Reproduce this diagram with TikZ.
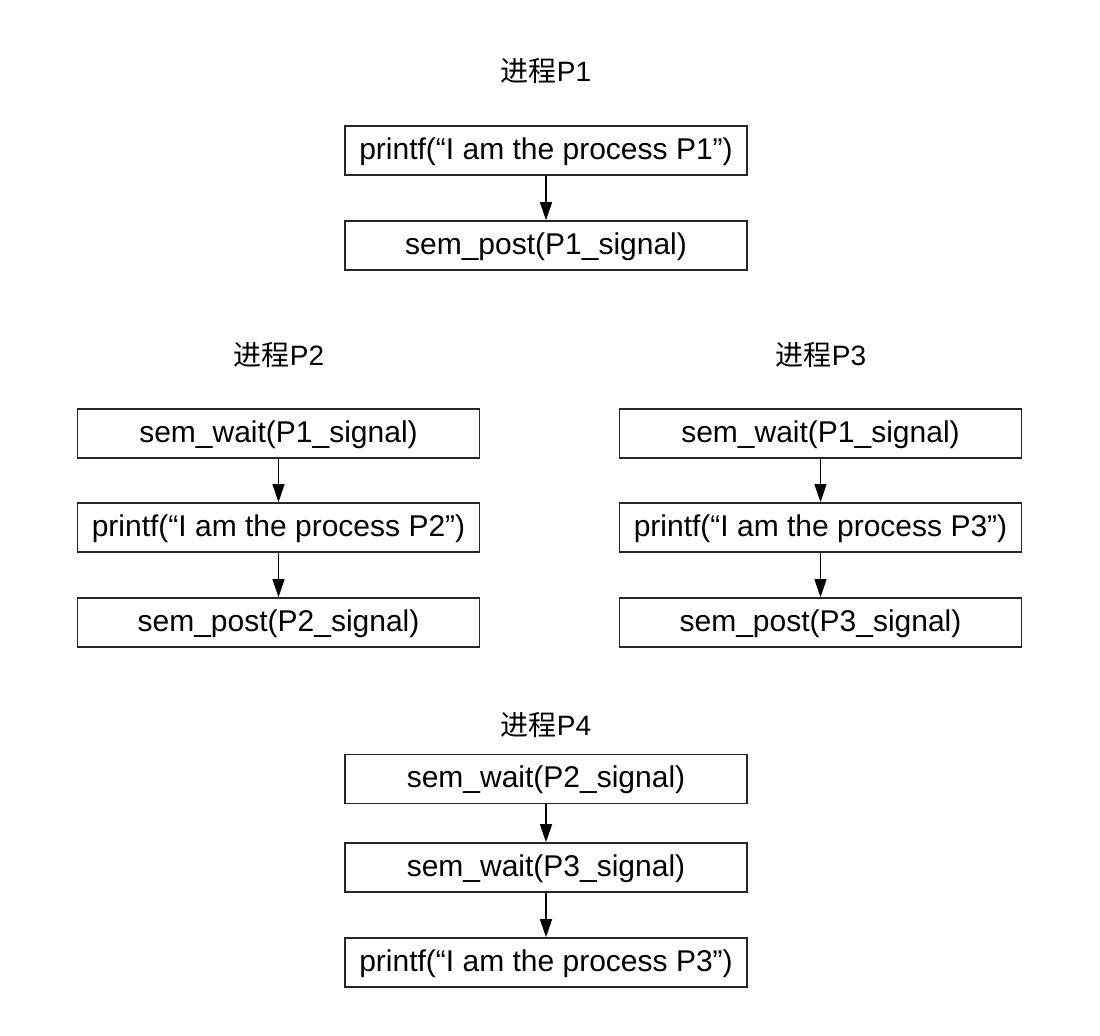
\documentclass[tikz,border=0pt]{standalone}
\usepackage{fontspec}
\setmainfont{Liberation Sans}
\newfontfamily\cjk{Noto Sans CJK SC}
\usetikzlibrary{arrows.meta}
\tikzset{
  box/.style={draw=black!85, line width=0.8pt, minimum width=201pt, minimum height=24.5pt, inner sep=0pt, text height=0.9em, text depth=0pt, font=\fontsize{15}{18}\selectfont},
  ttl/.style={inner sep=0pt, font=\fontsize{14}{17}\selectfont},
  arr/.style={draw=black, line width=0.6pt, -{Triangle[length=9pt,width=6pt]}}
}
\begin{document}
\begin{tikzpicture}[x=0.5pt,y=-0.5pt]
\useasboundingbox (0,0) rectangle (1100,1036);
% P1
\node[ttl] (t1) at (546,71) {{\cjk 进程}P1};
\node[box] (a1) at (546,150.5) {printf(“I am the process P1”)};
\node[box] (a2) at (546,245.5) {sem\_post(P1\_signal)};
\draw[arr] (a1) -- (a2);
% P2
\node[ttl] (t2) at (279,355) {{\cjk 进程}P2};
\node[box] (b1) at (278.5,433.5) {sem\_wait(P1\_signal)};
\node[box] (b2) at (278.5,527.5) {printf(“I am the process P2”)};
\node[box] (b3) at (278.5,622.5) {sem\_post(P2\_signal)};
\draw[arr] (b1) -- (b2);
\draw[arr] (b2) -- (b3);
% P3
\node[ttl] (t3) at (821,355) {{\cjk 进程}P3};
\node[box] (c1) at (820.5,433.5) {sem\_wait(P1\_signal)};
\node[box] (c2) at (820.5,527.5) {printf(“I am the process P3”)};
\node[box] (c3) at (820.5,622.5) {sem\_post(P3\_signal)};
\draw[arr] (c1) -- (c2);
\draw[arr] (c2) -- (c3);
% P4
\node[ttl] (t4) at (546,725) {{\cjk 进程}P4};
\node[box] (d1) at (546,779) {sem\_wait(P2\_signal)};
\node[box] (d2) at (546,867.5) {sem\_wait(P3\_signal)};
\node[box] (d3) at (546,962.5) {printf(“I am the process P3”)};
\draw[arr] (d1) -- (d2);
\draw[arr] (d2) -- (d3);
\end{tikzpicture}
\end{document}
